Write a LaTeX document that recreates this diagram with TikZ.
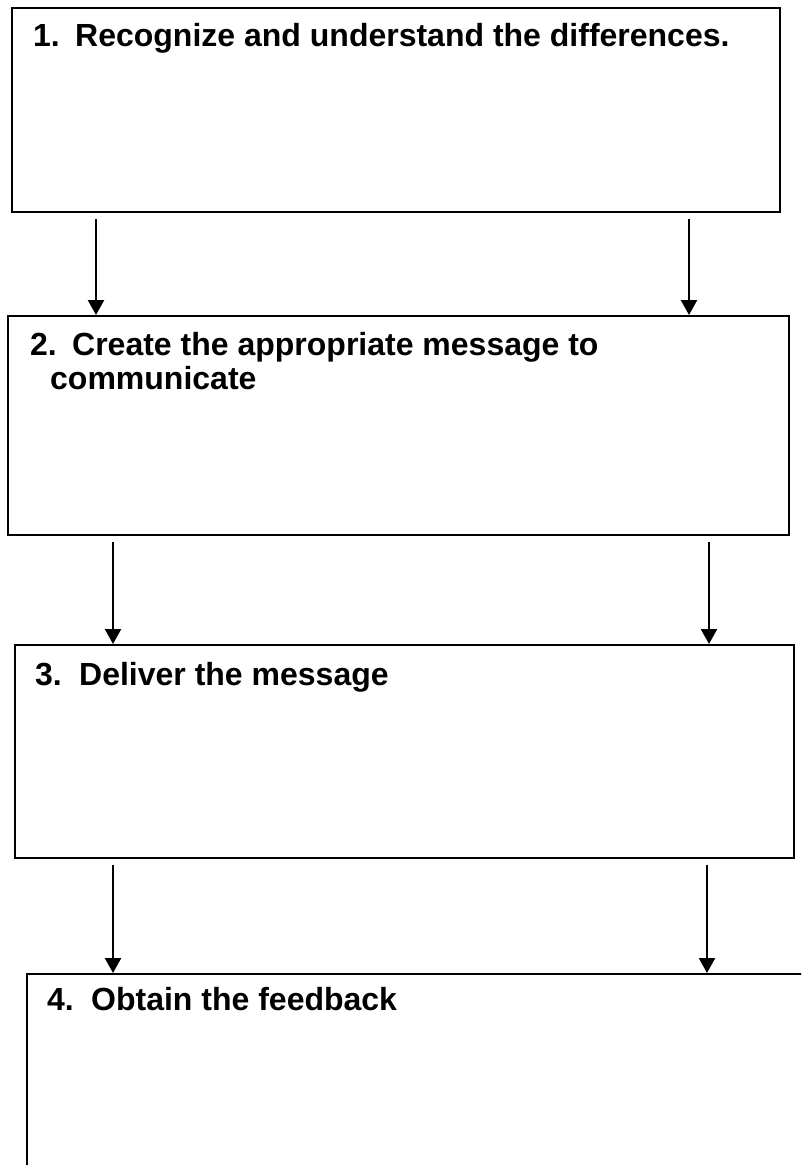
\documentclass[tikz,border=0pt]{standalone}
\usepackage{fontspec}
\setmainfont{Liberation Sans}
\usepackage{tikz}
\usetikzlibrary{arrows.meta}

\begin{document}
\begin{tikzpicture}[x=1pt,y=-1pt]
\tikzstyle{every node}+=[inner sep=0pt]
\tikzstyle{stepbox}=[draw=black, line width=2pt, anchor=north west]
\tikzstyle{steptext}=[anchor=base west, align=left, font=\bfseries\fontsize{32}{36}\selectfont]
\tikzstyle{flow}=[-{Triangle[width=16pt,length=15pt]}, line width=2.4pt, shorten <=6pt]
\clip (0,0) rectangle (801,1165);
\fill [white] (0,0) rectangle (801,1165);
\node [stepbox, minimum width=768, minimum height=204] (s1) at (11,7) {};
\node [stepbox, minimum width=781, minimum height=219] (s2) at (7,315) {};
\node [stepbox, minimum width=779, minimum height=213] (s3) at (14,644) {};
\node [stepbox, minimum width=800, minimum height=240] (s4) at (26,973) {};
\node [steptext] (t1) at (33,46) {\makebox[42pt][l]{1.}Recognize and understand the differences.};
\node [steptext] (t2) at (30,355) {\makebox[42pt][l]{2.}Create the appropriate message to};
\node [steptext] (t2b) at (50,389) {communicate};
\node [steptext] (t3) at (35,685) {\makebox[44pt][l]{3.}Deliver the message};
\node [steptext] (t4) at (47,1010) {\makebox[44pt][l]{4.}Obtain the feedback};
\coordinate (a1) at (96,0);
\coordinate (b1) at (689,0);
\coordinate (a2) at (113,0);
\coordinate (b2) at (709,0);
\coordinate (a3) at (113,0);
\coordinate (b3) at (707,0);
\draw [flow] (s1.south -| a1) -- (s2.north -| a1);
\draw [flow] (s1.south -| b1) -- (s2.north -| b1);
\draw [flow] (s2.south -| a2) -- (s3.north -| a2);
\draw [flow] (s2.south -| b2) -- (s3.north -| b2);
\draw [flow] (s3.south -| a3) -- (s4.north -| a3);
\draw [flow] (s3.south -| b3) -- (s4.north -| b3);
\end{tikzpicture}
\end{document}
